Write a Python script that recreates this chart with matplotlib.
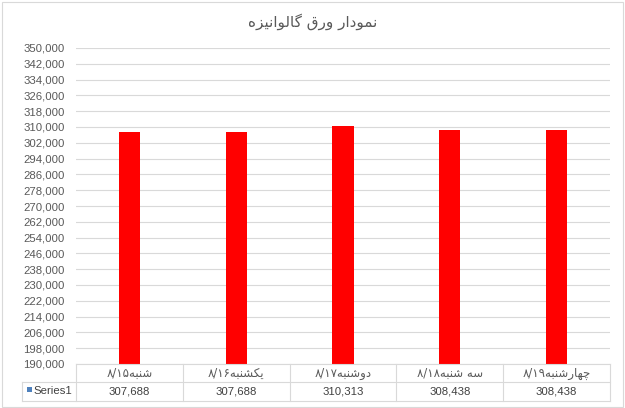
import numpy as np
import matplotlib
matplotlib.use('Agg')
import matplotlib.pyplot as plt
from matplotlib.ticker import FuncFormatter
from matplotlib.lines import Line2D
from matplotlib.patches import Rectangle
from matplotlib.transforms import blended_transform_factory

# chart data
title = 'نمودار ورق گالوانیزه'
categories = ['شنبه۸/۱۵', 'یکشنبه۸/۱۶', 'دوشنبه۸/۱۷', 'سه شنبه۸/۱۸', 'چهارشنبه۸/۱۹']
values = [307688, 307688, 310313, 308438, 308438]
series_name = 'Series1'
y_min, y_max, y_step = 190000, 350000, 8000

# arabic presentation forms: isolated, final, initial, medial
FORMS = {
    'ا': ('\uFE8D', '\uFE8E'),
    'ب': ('\uFE8F', '\uFE90', '\uFE91', '\uFE92'),
    'د': ('\uFEA9', '\uFEAA'),
    'ر': ('\uFEAD', '\uFEAE'),
    'ز': ('\uFEAF', '\uFEB0'),
    'س': ('\uFEB1', '\uFEB2', '\uFEB3', '\uFEB4'),
    'ش': ('\uFEB5', '\uFEB6', '\uFEB7', '\uFEB8'),
    'ق': ('\uFED5', '\uFED6', '\uFED7', '\uFED8'),
    'ل': ('\uFEDD', '\uFEDE', '\uFEDF', '\uFEE0'),
    'م': ('\uFEE1', '\uFEE2', '\uFEE3', '\uFEE4'),
    'ن': ('\uFEE5', '\uFEE6', '\uFEE7', '\uFEE8'),
    'ه': ('\uFEE9', '\uFEEA', '\uFEEB', '\uFEEC'),
    'و': ('\uFEED', '\uFEEE'),
    'چ': ('\uFB7A', '\uFB7B', '\uFB7C', '\uFB7D'),
    'ک': ('\uFB8E', '\uFB8F', '\uFB90', '\uFB91'),
    'گ': ('\uFB92', '\uFB93', '\uFB94', '\uFB95'),
    'ی': ('\uFBFC', '\uFBFD', '\uFBFE', '\uFBFF'),
}


def shape(word):
    out = []
    for i, ch in enumerate(word):
        if ch not in FORMS:
            out.append(ch)
            continue
        f = FORMS[ch]
        prev = word[i - 1] if i > 0 else ''
        nxt = word[i + 1] if i + 1 < len(word) else ''
        jp = prev in FORMS and len(FORMS[prev]) == 4
        jn = len(f) == 4 and nxt in FORMS
        if jp and jn:
            out.append(f[3])
        elif jp:
            out.append(f[1])
        elif jn:
            out.append(f[2])
        else:
            out.append(f[0])
    return ''.join(out)


def rtl(text):
    text = text.replace('\u064A', 'ی').replace('\u0643', 'ک')
    shaped = shape(text)
    runs = []
    for ch in shaped:
        is_num = ch.isdigit() or ch == '/'
        if runs and runs[-1][0] == is_num:
            runs[-1][1] += ch
        else:
            runs.append([is_num, ch])
    return ''.join(r if n else r[::-1] for n, r in reversed(runs))


W, H = 625, 408
grid_col = '#D9D9D9'
text_col = '#595959'
latin = 'Liberation Sans'
arabic = ['DejaVu Sans']

fig = plt.figure(figsize=(W / 100, H / 100), dpi=100)
ax = fig.add_axes([76 / W, 1 - 364 / H, (610 - 76) / W, (364 - 48) / H])

x = np.arange(len(categories))
heights = np.array(values) - y_min
ax.bar(x, heights, bottom=y_min, width=0.2, color='#FF0000', zorder=3)
ax.set_xlim(-0.5, len(categories) - 0.5)
ax.set_ylim(y_min, y_max)
ax.set_yticks(np.arange(y_min, y_max + 1, y_step))
ax.yaxis.set_major_formatter(FuncFormatter(lambda v, p: f'{v:,.0f}'))
ax.grid(axis='y', color=grid_col, linewidth=0.8, zorder=0)
for s in ax.spines.values():
    s.set_visible(False)
ax.tick_params(axis='y', length=0, pad=8, labelsize=8.2, labelcolor=text_col)
for lab in ax.get_yticklabels():
    lab.set_family(latin)
ax.set_xticks([])

# data table under the plot
tr = blended_transform_factory(ax.transData, fig.transFigure)
y0, y1, y2 = 1 - 364 / H, 1 - 382 / H, 1 - 401 / H
n = len(categories)
fig.add_artist(Line2D([-0.5, n - 0.5], [y0, y0], transform=tr, color=grid_col, lw=0.8))
fig.add_artist(Line2D([22 / W, 610 / W], [y1, y1], transform=fig.transFigure, color=grid_col, lw=0.8))
fig.add_artist(Line2D([22 / W, 610 / W], [y2, y2], transform=fig.transFigure, color=grid_col, lw=0.8))
fig.add_artist(Line2D([22 / W, 22 / W], [y1, y2], transform=fig.transFigure, color=grid_col, lw=0.8))
for k in range(n + 1):
    fig.add_artist(Line2D([k - 0.5, k - 0.5], [y0, y2], transform=tr, color=grid_col, lw=0.8))

for i, (c, v) in enumerate(zip(categories, values)):
    fig.text(i, (y0 + y1) / 2, rtl(c), transform=tr, ha='center', va='center',
             fontsize=8.5, color=text_col, family=arabic)
    fig.text(i, (y1 + y2) / 2, f'{v:,}', transform=tr, ha='center', va='center',
             fontsize=8.2, color='#404040', family=latin)

fig.add_artist(Rectangle((27 / W, 1 - 392 / H), 5 / W, 5 / H, transform=fig.transFigure,
                         facecolor='#4F81BD', edgecolor='none'))
fig.text(33 / W, (y1 + y2) / 2, series_name, ha='left', va='center',
         fontsize=8.2, color='#404040', family=latin)

fig.text(0.5, 1 - 22 / H, rtl(title), ha='center', va='center',
         fontsize=11, color=text_col, family=arabic)

fig.add_artist(Rectangle((2 / W, 1 / H), 621 / W, 405 / H, transform=fig.transFigure,
                         facecolor='none', edgecolor=grid_col, lw=0.8))

fig.savefig('out.png', dpi=100)
